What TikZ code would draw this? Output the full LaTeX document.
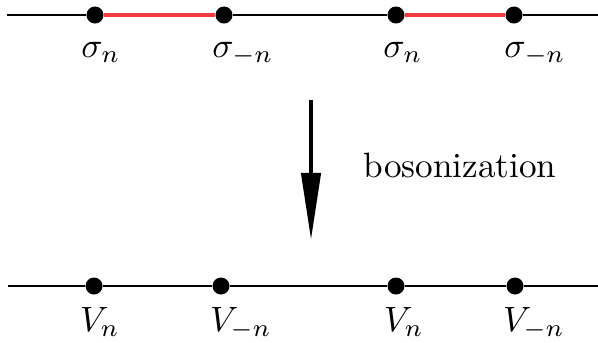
\documentclass[tikz,border=0pt]{standalone}
\usepackage{tikz}
\usetikzlibrary{arrows.meta, positioning}
\definecolor{pairred}{RGB}{245,60,60}

\begin{document}
\begin{tikzpicture}[x=0.01cm, y=-0.01cm,
    sitedot/.style={circle, fill=black, inner sep=0pt, minimum size=0.17cm},
    sitelabel/.style={anchor=base},
    chainline/.style={line width=0.7pt}]
    \useasboundingbox (0,0) rectangle (598,342);

    % fermion chain with paired twist fields
    \coordinate (tl) at (7,15);
    \coordinate (tr) at (598,15);
    \foreach \i/\xpos in {1/95, 2/224, 3/396, 4/514} {
        \node[sitedot] (s\i) at (\xpos,15) {};
    }
    \draw[chainline] (tl) -- (s1) (s2) -- (s3) (s4) -- (tr);
    \draw[chainline, pairred, line width=1pt] (s1) -- (s2) (s3) -- (s4);

    \node[sitelabel] (ls1) at (101,57) {$\sigma_n$};
    \node[sitelabel] (ls2) at (243,57) {$\sigma_{-n}$};
    \node[sitelabel] (ls3) at (403,57) {$\sigma_n$};
    \node[sitelabel] (ls4) at (535,57) {$\sigma_{-n}$};

    % map
    \coordinate (arrtop) at (311,100);
    \coordinate (arrtip) at (311,240);
    \draw[line width=1.2pt, -{Triangle[length=0.67cm, width=0.19cm]}] (arrtop) -- (arrtip);
    \node[anchor=base] (boson) at (460,177) {bosonization};

    % boson chain with vertex operators
    \coordinate (bl) at (8,286);
    \coordinate (br) at (598,286);
    \foreach \i/\xpos in {1/94, 2/221, 3/396, 4/515} {
        \node[sitedot] (v\i) at (\xpos,286) {};
    }
    \draw[chainline] (bl) -- (v1) -- (v2) -- (v3) -- (v4) -- (br);

    \node[sitelabel] (lv1) at (100,331) {$V_n$};
    \node[sitelabel] (lv2) at (241,331) {$V_{-n}$};
    \node[sitelabel] (lv3) at (404,331) {$V_n$};
    \node[sitelabel] (lv4) at (534,331) {$V_{-n}$};
\end{tikzpicture}
\end{document}
